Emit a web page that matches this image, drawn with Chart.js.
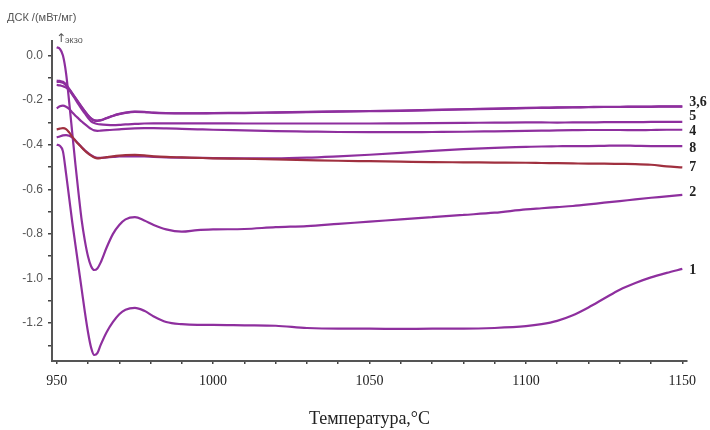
<!DOCTYPE html>
<html>
<head>
<meta charset="utf-8">
<script src="https://cdn.jsdelivr.net/npm/chart.js@4"></script>
<style>
  html, body { margin: 0; padding: 0; background: #fff; }
  #wrap { width: 710px; height: 430px; }
</style>
</head>
<body>
<div id="wrap"><canvas id="dsc" width="710" height="430"></canvas></div>
<script>
// temperature grid, deg C
const temps = [950, 951, 952, 953, 954, 955, 956, 957, 958, 959, 960, 961, 962, 963, 964, 966, 968, 970, 972, 975,
  978, 981, 985, 990, 995, 1000, 1010, 1020, 1030, 1040, 1050, 1060, 1070, 1080, 1090, 1100, 1105, 1110, 1115, 1120,
  1125, 1130, 1135, 1140, 1145, 1150];

// DSC signal, mW/mg
const curve1 = [-0.400, -0.405, -0.43, -0.53, -0.64, -0.75, -0.85, -0.95, -1.05, -1.15, -1.24, -1.31, -1.343, -1.335, -1.30, -1.24, -1.195, -1.16, -1.14, -1.132,
  -1.145, -1.17, -1.195, -1.205, -1.208, -1.208, -1.21, -1.212, -1.222, -1.225, -1.225, -1.226, -1.225, -1.225, -1.222, -1.214, -1.205, -1.19, -1.165, -1.13,
  -1.09, -1.05, -1.02, -0.995, -0.975, -0.957];
const curve2 = [0.037, 0.03, 0.0, -0.08, -0.21, -0.35, -0.49, -0.62, -0.74, -0.83, -0.90, -0.945, -0.962, -0.955, -0.93, -0.86, -0.80, -0.76, -0.735, -0.725,
  -0.74, -0.76, -0.78, -0.79, -0.783, -0.78, -0.778, -0.77, -0.765, -0.755, -0.745, -0.735, -0.725, -0.715, -0.705, -0.69, -0.685, -0.68, -0.675, -0.668,
  -0.66, -0.653, -0.645, -0.638, -0.632, -0.625];
const curve3 = [-0.113, -0.114, -0.118, -0.13, -0.15, -0.17, -0.19, -0.21, -0.23, -0.25, -0.268, -0.282, -0.29, -0.292, -0.29, -0.28, -0.27, -0.262, -0.256, -0.252,
  -0.253, -0.256, -0.258, -0.259, -0.259, -0.258, -0.257, -0.255, -0.253, -0.251, -0.249, -0.247, -0.244, -0.241, -0.238, -0.235, -0.234, -0.233, -0.232, -0.231,
  -0.23, -0.23, -0.229, -0.229, -0.228, -0.228];
const curve6 = [-0.118, -0.119, -0.122, -0.133, -0.152, -0.172, -0.192, -0.212, -0.232, -0.251, -0.269, -0.283, -0.291, -0.293, -0.291, -0.281, -0.271, -0.263, -0.257, -0.253,
  -0.254, -0.257, -0.259, -0.26, -0.26, -0.259, -0.258, -0.256, -0.254, -0.252, -0.25, -0.248, -0.245, -0.242, -0.239, -0.236, -0.235, -0.234, -0.233, -0.232,
  -0.231, -0.231, -0.23, -0.23, -0.229, -0.229];
const curve5 = [-0.132, -0.134, -0.138, -0.144, -0.155, -0.175, -0.197, -0.219, -0.24, -0.26, -0.28, -0.295, -0.303, -0.307, -0.309, -0.311, -0.312, -0.311, -0.309, -0.307,
  -0.305, -0.304, -0.304, -0.304, -0.304, -0.304, -0.305, -0.305, -0.305, -0.305, -0.305, -0.304, -0.303, -0.302, -0.301, -0.3, -0.3, -0.301, -0.3, -0.3,
  -0.299, -0.299, -0.299, -0.298, -0.298, -0.298];
const curve4 = [-0.237, -0.228, -0.225, -0.23, -0.24, -0.256, -0.27, -0.283, -0.296, -0.308, -0.319, -0.329, -0.336, -0.338, -0.337, -0.335, -0.333, -0.331, -0.329, -0.327,
  -0.326, -0.326, -0.327, -0.329, -0.331, -0.333, -0.336, -0.339, -0.341, -0.343, -0.344, -0.344, -0.343, -0.342, -0.34, -0.338, -0.337, -0.336, -0.335, -0.334,
  -0.334, -0.334, -0.335, -0.334, -0.333, -0.333];
const curve7 = [-0.331, -0.328, -0.326, -0.33, -0.345, -0.365, -0.383, -0.398, -0.413, -0.427, -0.439, -0.449, -0.457, -0.461, -0.46, -0.456, -0.452, -0.449, -0.447, -0.446,
  -0.448, -0.452, -0.455, -0.457, -0.459, -0.461, -0.463, -0.466, -0.469, -0.472, -0.474, -0.476, -0.478, -0.479, -0.48, -0.481, -0.482, -0.483, -0.484, -0.485,
  -0.485, -0.486, -0.487, -0.49, -0.497, -0.502];
const curve8 = [-0.367, -0.363, -0.358, -0.357, -0.36, -0.368, -0.381, -0.396, -0.411, -0.425, -0.437, -0.447, -0.455, -0.459, -0.459, -0.457, -0.455, -0.453, -0.452, -0.452,
  -0.453, -0.455, -0.457, -0.458, -0.459, -0.46, -0.461, -0.461, -0.458, -0.452, -0.445, -0.437, -0.428, -0.42, -0.414, -0.41, -0.408, -0.407, -0.406, -0.406,
  -0.405, -0.404, -0.405, -0.406, -0.406, -0.406];

const xTicks = [950, 960, 970, 980, 990, 1000, 1010, 1020, 1030, 1040, 1050, 1060, 1070, 1080, 1090, 1100, 1110, 1120, 1130, 1140, 1150];
const xLabels = [950, 1000, 1050, 1100, 1150];
const yTicks = [0.0, -0.1, -0.2, -0.3, -0.4, -0.5, -0.6, -0.7, -0.8, -0.9, -1.0, -1.1, -1.2, -1.3];
const yLabels = ['0.0', '-0.2', '-0.4', '-0.6', '-0.8', '-1.0', '-1.2'];

// labels at the right end of each curve
const endLabels = ['3,6', '5', '4', '8', '7', '2', '1'];
const endCurves = [curve3, curve5, curve4, curve8, curve7, curve2, curve1];
const endShift = [-4, -6, 2, 2, 0, -2, 1];

const PURPLE = '#8e2f9e';
const series = [
  { name: '7', values: curve7, color: '#a0303f' },
  { name: '8', values: curve8, color: PURPLE },
  { name: '3', values: curve3, color: PURPLE },
  { name: '6', values: curve6, color: PURPLE },
  { name: '5', values: curve5, color: PURPLE },
  { name: '4', values: curve4, color: PURPLE },
  { name: '2', values: curve2, color: PURPLE },
  { name: '1', values: curve1, color: PURPLE }
];

const textPlugin = {
  id: 'texts',
  afterDraw(chart) {
    const ctx = chart.ctx;
    const xs = chart.scales.x, ys = chart.scales.y;
    ctx.save();
    ctx.fillStyle = '#222';
    ctx.font = 'bold 14px "Liberation Serif"';
    ctx.textAlign = 'left';
    ctx.textBaseline = 'middle';
    const xEnd = xs.getPixelForValue(temps[temps.length - 1]) + 7;
    endLabels.forEach((lab, i) => {
      const c = endCurves[i];
      ctx.fillText(lab, xEnd, ys.getPixelForValue(c[c.length - 1]) + endShift[i]);
    });
    ctx.fillStyle = '#555';
    ctx.font = '11px "Liberation Sans"';
    ctx.fillText('ДСК /(мВт/мг)', 7, 18);
    ctx.font = '12px "DejaVu Sans"';
    ctx.fillText('↑', 56, 39);
    ctx.font = '9px "Liberation Sans"';
    ctx.fillText('экзо', 65, 41);
    ctx.restore();
  }
};

new Chart(document.getElementById('dsc'), {
  type: 'line',
  data: {
    datasets: series.map(s => ({
      label: s.name,
      data: temps.map((t, i) => ({ x: t, y: s.values[i] })),
      borderColor: s.color,
      borderWidth: 2.2,
      pointRadius: 0,
      cubicInterpolationMode: 'monotone',
      fill: false
    }))
  },
  options: {
    responsive: false,
    animation: false,
    devicePixelRatio: 1,
    layout: { padding: { top: 41, right: 23, left: 0, bottom: 0 } },
    plugins: {
      legend: { display: false },
      tooltip: { enabled: false }
    },
    scales: {
      x: {
        type: 'linear',
        min: 948.5,
        max: 1151.5,
        afterBuildTicks: scale => { scale.ticks = xTicks.map(v => ({ value: v })); },
        afterFit: scale => { scale.height = 69; },
        ticks: {
          callback: v => xLabels.includes(v) ? String(v) : '',
          autoSkip: false,
          maxRotation: 0,
          padding: 9,
          color: '#222',
          font: { family: '"Liberation Serif"', size: 14 }
        },
        grid: { drawOnChartArea: false, drawTicks: true, tickLength: 3, color: '#444', lineWidth: 1.5 },
        border: { display: true, color: '#555', width: 2 },
        title: {
          display: true,
          text: 'Температура,°C',
          color: '#222',
          font: { family: '"Liberation Serif"', size: 18 },
          padding: { top: 0, bottom: 0 }
        }
      },
      y: {
        type: 'linear',
        min: -1.37,
        max: 0.065,
        afterBuildTicks: scale => { scale.ticks = yTicks.map(v => ({ value: v })); },
        afterFit: scale => { scale.width = 52; },
        ticks: {
          callback: v => {
            const s = v.toFixed(1) === '-0.0' ? '0.0' : v.toFixed(1);
            return yLabels.includes(s) ? s : '';
          },
          autoSkip: false,
          padding: 5,
          color: '#555',
          font: { family: '"Liberation Sans"', size: 12 }
        },
        grid: { drawOnChartArea: false, drawTicks: true, tickLength: 4, color: '#444', lineWidth: 1.5 },
        border: { display: true, color: '#555', width: 2 }
      }
    }
  },
  plugins: [textPlugin]
});
</script>
</body>
</html>
